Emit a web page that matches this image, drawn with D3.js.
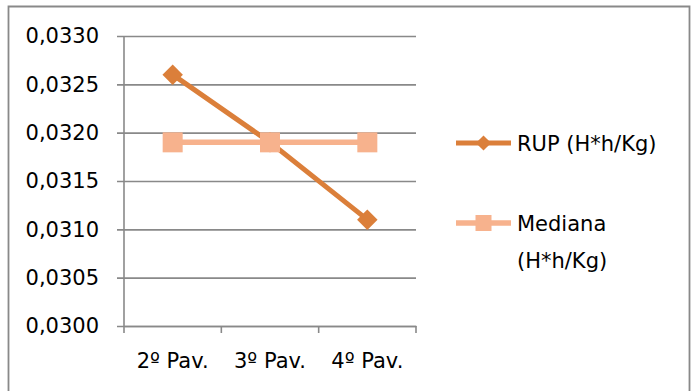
<!DOCTYPE html>
<html>
<head>
<meta charset="utf-8">
<script src="https://cdn.jsdelivr.net/npm/d3@7"></script>
<style>
  html, body { margin: 0; padding: 0; background: #ffffff; }
  svg { display: block; }
  text { font-family: "DejaVu Sans", "Open Sans", sans-serif; fill: #000; }
</style>
</head>
<body>
<svg id="chart" width="691" height="391"></svg>
<script>
// Chart data
const categories = ["2º Pav.", "3º Pav.", "4º Pav."];
const rupValues = [0.0326, 0.0319, 0.0311];
const medianaValues = [0.0319, 0.0319, 0.0319];
const yTicks = [0.0300, 0.0305, 0.0310, 0.0315, 0.0320, 0.0325, 0.0330];
const seriesNames = ["RUP (H*h/Kg)", ["Mediana", "(H*h/Kg)"]];

const W = 691, H = 391;
const plot = { left: 124, right: 416, top: 36, bottom: 326 };
const gridColor = "#898989";
const rupColor = "#DB7F3A";
const medColor = "#F7B28D";
const fontSize = 21;
const fontFamily = "'DejaVu Sans', sans-serif";

const svg = d3.select("#chart");

// outer chart frame (open at the bottom)
svg.append("path")
  .attr("d", `M8.5,${H + 2} V6.5 H689.5 V${H + 2}`)
  .attr("fill", "none")
  .attr("stroke", gridColor)
  .attr("stroke-width", 1.8);

const x = d3.scaleBand().domain(categories).range([plot.left, plot.right]);
const y = d3.scaleLinear().domain([0.0300, 0.0330]).range([plot.bottom, plot.top]);
const fmt = v => d3.format(".4f")(v).replace(".", ",");

// horizontal gridlines with value labels
const yAxis = d3.axisLeft(y).tickValues(yTicks).tickFormat(fmt)
  .tickSize(-(plot.right - plot.left)).tickPadding(25);
const gy = svg.append("g").attr("transform", `translate(${plot.left},0)`).call(yAxis);
gy.select(".domain").remove();
gy.selectAll(".tick line").attr("stroke", gridColor).attr("stroke-width", 1.6)
  .attr("x1", -7);
gy.selectAll(".tick text").attr("font-size", fontSize).attr("fill", "#000")
  .attr("font-family", fontFamily);

// vertical axis line
svg.append("line")
  .attr("x1", plot.left).attr("x2", plot.left)
  .attr("y1", plot.top).attr("y2", plot.bottom)
  .attr("stroke", gridColor).attr("stroke-width", 1.6);

// category axis with tick marks at band boundaries
const xAxis = d3.axisBottom(x).tickSize(0).tickPadding(27);
const gx = svg.append("g").attr("transform", `translate(0,${plot.bottom})`).call(xAxis);
gx.select(".domain").attr("stroke", gridColor).attr("stroke-width", 1.6);
gx.selectAll(".tick text").attr("font-size", fontSize).attr("fill", "#000")
  .attr("font-family", fontFamily);
const bounds = categories.map(c => x(c)).concat([x(categories[categories.length - 1]) + x.bandwidth()]);
svg.append("g").selectAll("line").data(bounds).join("line")
  .attr("x1", d => d).attr("x2", d => d)
  .attr("y1", plot.bottom).attr("y2", plot.bottom + 7)
  .attr("stroke", gridColor).attr("stroke-width", 1.6);

const cx = c => x(c) + x.bandwidth() / 2;
const line = d3.line().x(d => cx(d.c)).y(d => y(d.v));

const rupData = categories.map((c, i) => ({ c, v: rupValues[i] }));
const medData = categories.map((c, i) => ({ c, v: medianaValues[i] }));

// RUP series
svg.append("path").datum(rupData).attr("d", line)
  .attr("fill", "none").attr("stroke", rupColor).attr("stroke-width", 5);
const diamond = d3.symbol().type(d3.symbolSquare).size(210);
svg.append("g").selectAll("path").data(rupData).join("path")
  .attr("d", diamond())
  .attr("transform", d => `translate(${cx(d.c)},${y(d.v)}) rotate(45)`)
  .attr("fill", rupColor);

// Mediana series
svg.append("path").datum(medData).attr("d", line)
  .attr("fill", "none").attr("stroke", medColor).attr("stroke-width", 5.5);
svg.append("g").selectAll("rect").data(medData).join("rect")
  .attr("x", d => cx(d.c) - 10).attr("y", d => y(d.v) - 10)
  .attr("width", 20).attr("height", 20)
  .attr("fill", medColor);

// legend
const lg = svg.append("g");
const lx1 = 456, lx2 = 511, ltx = 517;
// RUP entry
lg.append("line").attr("x1", lx1).attr("x2", lx2).attr("y1", 143).attr("y2", 143)
  .attr("stroke", rupColor).attr("stroke-width", 5);
lg.append("path").attr("d", d3.symbol().type(d3.symbolSquare).size(115)())
  .attr("transform", `translate(${(lx1 + lx2) / 2},143) rotate(45)`).attr("fill", rupColor);
lg.append("text").attr("x", ltx).attr("y", 143).attr("dy", "0.36em")
  .attr("font-size", fontSize).text(seriesNames[0]);
// Mediana entry
lg.append("line").attr("x1", lx1).attr("x2", lx2).attr("y1", 223).attr("y2", 223)
  .attr("stroke", medColor).attr("stroke-width", 5.5);
lg.append("rect").attr("x", (lx1 + lx2) / 2 - 8).attr("y", 215).attr("width", 16).attr("height", 16)
  .attr("fill", medColor);
const mt = lg.append("text").attr("x", ltx).attr("y", 223).attr("font-size", fontSize);
mt.append("tspan").attr("x", ltx).attr("dy", "0.36em").text(seriesNames[1][0]);
mt.append("tspan").attr("x", ltx).attr("dy", "1.76em").text(seriesNames[1][1]);
</script>
</body>
</html>
